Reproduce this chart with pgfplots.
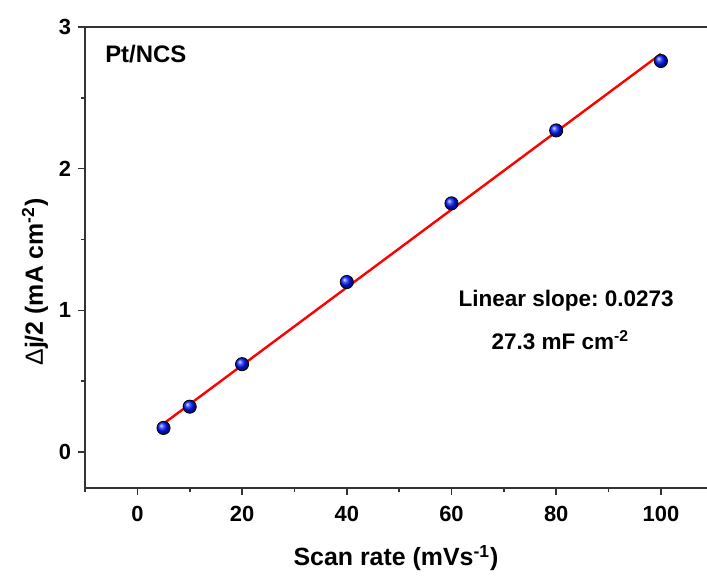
\documentclass[border=0pt]{standalone}
\usepackage{fontspec}
\setmainfont{Liberation Sans}
\usepackage{pgfplots}
\pgfplotsset{compat=1.18}
\usetikzlibrary{calc}
\frenchspacing

\begin{document}
\begin{tikzpicture}
\begin{axis}[
    scale only axis,
    width=311bp, height=230.5bp,
    xmin=-10, xmax=108.8,
    ymin=-0.254, ymax=3,
    axis x line*=bottom,
    axis y line*=left,
    axis line style={line width=1bp, black!80},
    xtick pos=bottom, ytick pos=left,
    tick align=outside,
    major tick length=3.5bp, minor tick length=2bp,
    every tick/.style={black!80, line width=0.8bp},
    xtick={0,20,...,100},
    minor xtick={-10,10,...,110},
    ytick={0,1,2,3},
    minor ytick={0.5,1.5,2.5},
    /pgf/number format/assume math mode=true,
    tick label style={font=\bfseries\fontsize{11}{12}\selectfont},
    xticklabel style={yshift=-2bp},
    xlabel={Scan rate (mVs\textsuperscript{-1})},
    ylabel={{\mdseries Δ}j/2 (mA cm\textsuperscript{-2})},
    label style={font=\bfseries\fontsize{12.5}{14}\selectfont},
    xlabel style={at={(rel axis cs:0.5,0)}, anchor=center, yshift=-35bp},
    ylabel style={at={(rel axis cs:0,0.447)}, anchor=center, yshift=25bp},
    clip=false,
]
\draw[line width=1bp, black!80] (rel axis cs:0,1) -- (rel axis cs:1,1);
\addplot[red, line width=1.2bp] coordinates {(5,0.20) (100,2.81)};
\addplot[only marks, mark=ball, mark size=3.3bp, mark options={ball color=blue!90!cyan}]
    coordinates {(5,0.17) (10,0.32) (20,0.62) (40,1.20) (60,1.755) (80,2.27) (100,2.76)};
\node[anchor=west, inner sep=0pt, font=\bfseries\fontsize{12}{14}\selectfont] at (rel axis cs:0.032,0.941) {Pt/NCS};
\node[font=\bfseries\fontsize{11.3}{13}\selectfont] at (axis cs:81.9,1.066) {Linear slope: 0.0273};
\node[font=\bfseries\fontsize{11.3}{13}\selectfont] at (axis cs:80.8,0.79) {27.3 mF cm\textsuperscript{-2}};
\coordinate (SW) at (rel axis cs:0,0);
\coordinate (NE) at (rel axis cs:1,1);
\end{axis}
\pgfresetboundingbox
\useasboundingbox ($(SW)+(-42.5bp,-45.5bp)$) rectangle ($(NE)+(0,13.5bp)$);
\end{tikzpicture}
\end{document}
